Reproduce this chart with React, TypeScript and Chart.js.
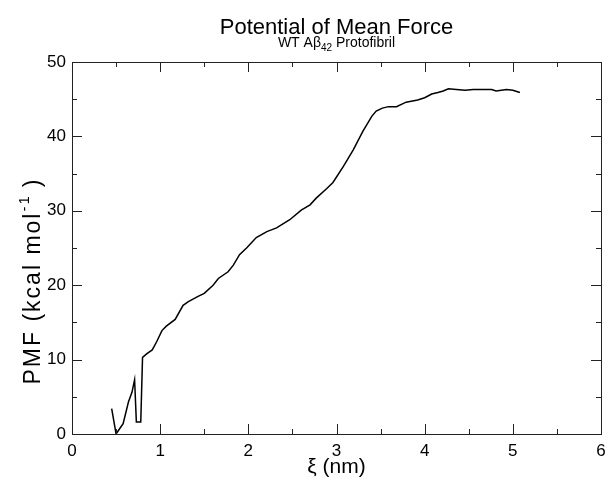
import React, { useEffect, useRef } from "react";
import { Chart, registerables } from "chart.js";

Chart.register(...registerables);

const xiValues: number[] = [
  0.45, 0.5, 0.54, 0.58, 0.64, 0.68, 0.71, 0.73, 0.78, 0.8, 0.85, 0.91, 0.96, 1.02, 1.07, 1.17,
  1.26, 1.32, 1.43, 1.5, 1.6, 1.66, 1.77, 1.83, 1.9, 1.98, 2.09, 2.21, 2.32, 2.47, 2.6, 2.7,
  2.77, 2.89, 2.96, 3.08, 3.19, 3.3, 3.4, 3.45, 3.52, 3.59, 3.68, 3.79, 3.92, 4.0, 4.08, 4.15,
  4.21, 4.27, 4.36, 4.46, 4.55, 4.65, 4.76, 4.81, 4.93, 5.0, 5.08,
];
const pmfValues: number[] = [
  3.4, 0.0, 0.7, 1.4, 4.3, 5.6, 7.3, 1.6, 1.6, 10.3, 10.8, 11.3, 12.4, 13.9, 14.5, 15.4,
  17.3, 17.8, 18.5, 18.9, 20.0, 20.9, 21.8, 22.7, 24.1, 25.0, 26.4, 27.2, 27.7, 28.8, 30.1, 30.8,
  31.7, 33.0, 33.8, 36.0, 38.2, 40.7, 42.7, 43.4, 43.8, 44.0, 44.0, 44.6, 44.9, 45.2, 45.7, 45.9,
  46.1, 46.4, 46.3, 46.2, 46.3, 46.3, 46.3, 46.1, 46.3, 46.2, 45.9,
];
const xTicks: number[] = [0, 1, 2, 3, 4, 5, 6];
const yTicks: number[] = [0, 10, 20, 30, 40, 50];
const titleText = "Potential of Mean Force";
const subtitleParts = ["WT A\u03B2", "42", " Protofibril"];
const xTitle = "\u03BE (nm)";
const yTitleParts = ["PMF (kcal mol", "-1", ")"];

const FONT = "'Liberation Sans', Arial, Helvetica, sans-serif";

const framePlugin = {
  id: "graceFrame",
  afterDraw(chart: any) {
    const ctx = chart.ctx as CanvasRenderingContext2D;
    const { left, right, top, bottom } = chart.chartArea;
    const xs = chart.scales.x;
    const ys = chart.scales.y;
    ctx.save();
    ctx.strokeStyle = "#222";
    ctx.lineWidth = 1;
    ctx.strokeRect(Math.round(left) + 0.5, Math.round(top) + 0.5, Math.round(right - left), Math.round(bottom - top));
    ctx.beginPath();
    for (let v = xTicks[0]; v <= xTicks[xTicks.length - 1] + 1e-9; v += 0.5) {
      const major = Math.abs(v - Math.round(v)) < 1e-9;
      const len = major ? 10 : 5;
      const px = Math.round(xs.getPixelForValue(v)) + 0.5;
      ctx.moveTo(px, bottom);
      ctx.lineTo(px, bottom - len);
      ctx.moveTo(px, top);
      ctx.lineTo(px, top + len);
    }
    for (let v = yTicks[0]; v <= yTicks[yTicks.length - 1] + 1e-9; v += 5) {
      const major = Math.abs(v / 10 - Math.round(v / 10)) < 1e-9;
      const len = major ? 10 : 5;
      const py = Math.round(ys.getPixelForValue(v)) + 0.5;
      ctx.moveTo(left, py);
      ctx.lineTo(left + len, py);
      ctx.moveTo(right, py);
      ctx.lineTo(right - len, py);
    }
    ctx.stroke();

    ctx.fillStyle = "#000";
    const cx = (left + right) / 2;
    // title
    ctx.font = `22px ${FONT}`;
    ctx.textAlign = "center";
    ctx.textBaseline = "alphabetic";
    ctx.fillText(titleText, cx, 34);
    // subtitle with subscript
    ctx.textAlign = "left";
    const mainF = `14px ${FONT}`;
    const subF = `10px ${FONT}`;
    ctx.font = mainF;
    const w0 = ctx.measureText(subtitleParts[0]).width;
    const w2 = ctx.measureText(subtitleParts[2]).width;
    ctx.font = subF;
    const w1 = ctx.measureText(subtitleParts[1]).width;
    let sx = cx - (w0 + w1 + w2) / 2;
    ctx.font = mainF;
    ctx.fillText(subtitleParts[0], sx, 47);
    sx += w0;
    ctx.font = subF;
    ctx.fillText(subtitleParts[1], sx, 51);
    sx += w1;
    ctx.font = mainF;
    ctx.fillText(subtitleParts[2], sx, 47);
    // x title
    ctx.font = `21px ${FONT}`;
    ctx.textAlign = "center";
    ctx.fillText(xTitle, cx, 473);
    // y title rotated with superscript
    ctx.save();
    ctx.translate(40, 281);
    ctx.rotate(-Math.PI / 2);
    const anyCtx = ctx as any;
    anyCtx.letterSpacing = "2px";
    const yMain = `23px ${FONT}`;
    const ySup = `15px ${FONT}`;
    ctx.font = yMain;
    const a0 = ctx.measureText(yTitleParts[0]).width;
    const a2 = ctx.measureText(yTitleParts[2]).width;
    ctx.font = ySup;
    const a1 = ctx.measureText(yTitleParts[1]).width;
    const gap = 7;
    let tx = -(a0 + a1 + gap + a2) / 2;
    ctx.textAlign = "left";
    ctx.font = yMain;
    ctx.fillText(yTitleParts[0], tx, 0);
    tx += a0;
    ctx.font = ySup;
    ctx.fillText(yTitleParts[1], tx, -11);
    tx += a1 + gap;
    ctx.font = yMain;
    ctx.fillText(yTitleParts[2], tx, 0);
    anyCtx.letterSpacing = "0px";
    ctx.restore();
    ctx.restore();
  },
};

export default function App() {
  const canvasRef = useRef<HTMLCanvasElement | null>(null);
  useEffect(() => {
    if (!canvasRef.current) return;
    const points = xiValues.map((x, i) => ({ x, y: pmfValues[i] }));
    const chart = new Chart(canvasRef.current, {
      type: "scatter",
      data: {
        datasets: [
          {
            data: points,
            showLine: true,
            borderColor: "#000",
            borderWidth: 1.5,
            pointRadius: 0,
            fill: false,
            tension: 0,
          },
        ],
      },
      options: {
        responsive: false,
        animation: false,
        layout: { padding: { top: 62, right: 5, left: 0, bottom: 0 } },
        plugins: { legend: { display: false }, tooltip: { enabled: false }, title: { display: false } },
        scales: {
          x: {
            type: "linear",
            min: 0,
            max: 6,
            afterFit: (s: any) => {
              s.height = 45;
              s.paddingRight = 0;
              s.paddingLeft = 0;
            },
            afterBuildTicks: (s: any) => {
              s.ticks = xTicks.map((v) => ({ value: v }));
            },
            ticks: {
              font: { family: FONT, size: 17 },
              color: "#000",
              padding: 7,
              maxRotation: 0,
            },
            grid: { display: false, drawTicks: false },
            border: { display: false },
          },
          y: {
            type: "linear",
            min: 0,
            max: 50,
            afterFit: (s: any) => {
              s.width = 72;
              s.paddingTop = 0;
              s.paddingBottom = 0;
            },
            afterBuildTicks: (s: any) => {
              s.ticks = yTicks.map((v) => ({ value: v }));
            },
            ticks: {
              font: { family: FONT, size: 17 },
              color: "#000",
              padding: 6,
            },
            grid: { display: false, drawTicks: false },
            border: { display: false },
          },
        },
      },
      plugins: [framePlugin],
    });
    return () => chart.destroy();
  }, []);
  return (
    <div style={{ position: "absolute", left: 0, top: 0, width: 606, height: 479, background: "#fff" }}>
      <canvas ref={canvasRef} width={606} height={479} style={{ width: 606, height: 479 }} />
    </div>
  );
}
